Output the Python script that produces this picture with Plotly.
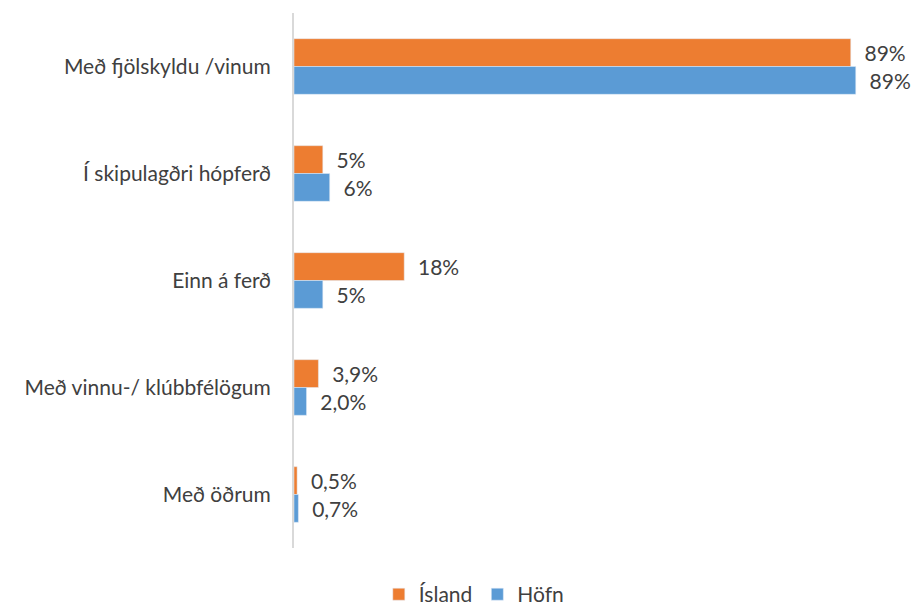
import plotly.graph_objects as go

categories = ["Með fjölskyldu /vinum", "Í skipulagðri hópferð", "Einn á ferð",
              "Með vinnu-/ klúbbfélögum", "Með öðrum"]
island_vals = [88.9, 4.6, 17.6, 3.9, 0.5]
hofn_vals = [89.7, 5.7, 4.6, 2.0, 0.7]
island_labels = ["89%", "5%", "18%", "3,9%", "0,5%"]
hofn_labels = ["89%", "6%", "5%", "2,0%", "0,7%"]

font_fam = "Lato, Open Sans, sans-serif"
txt_col = "#404040"
pad = "\u00a0\u00a0"
fs = 21

fig = go.Figure()
fig.add_trace(go.Bar(
    y=categories, x=island_vals, orientation="h", name="Ísland",
    marker=dict(color="#ED7D31"), text=[pad + t for t in island_labels],
    textposition="outside",
    textfont=dict(size=fs, color=txt_col, family=font_fam), cliponaxis=False))
fig.add_trace(go.Bar(
    y=categories, x=hofn_vals, orientation="h", name="Höfn",
    marker=dict(color="#5B9BD5"), text=[pad + t for t in hofn_labels],
    textposition="outside",
    textfont=dict(size=fs, color=txt_col, family=font_fam), cliponaxis=False))

fig.update_layout(
    width=914, height=610,
    margin=dict(l=294, r=0, t=13, b=62, autoexpand=False),
    paper_bgcolor="white", plot_bgcolor="white",
    barmode="group", bargap=0.48, bargroupgap=0,
    font=dict(family=font_fam, size=fs, color=txt_col),
    showlegend=True,
    legend=dict(orientation="h", x=0.29, xanchor="center", y=-0.087, yanchor="middle",
                font=dict(size=fs, color=txt_col), itemwidth=30, traceorder="normal"),
    xaxis=dict(range=[0, 99], showgrid=False, showticklabels=False, zeroline=False,
               showline=False, automargin=False),
    yaxis=dict(autorange="reversed", showgrid=False, showline=True, linecolor="#D9D9D9",
               linewidth=2, ticks="", ticklabelstandoff=17, automargin=False,
               tickfont=dict(size=fs, color=txt_col)),
)
fig.write_html("out.html", config={"displayModeBar": False},
               post_script="document.body.style.margin='0';document.body.style.padding='0';")
